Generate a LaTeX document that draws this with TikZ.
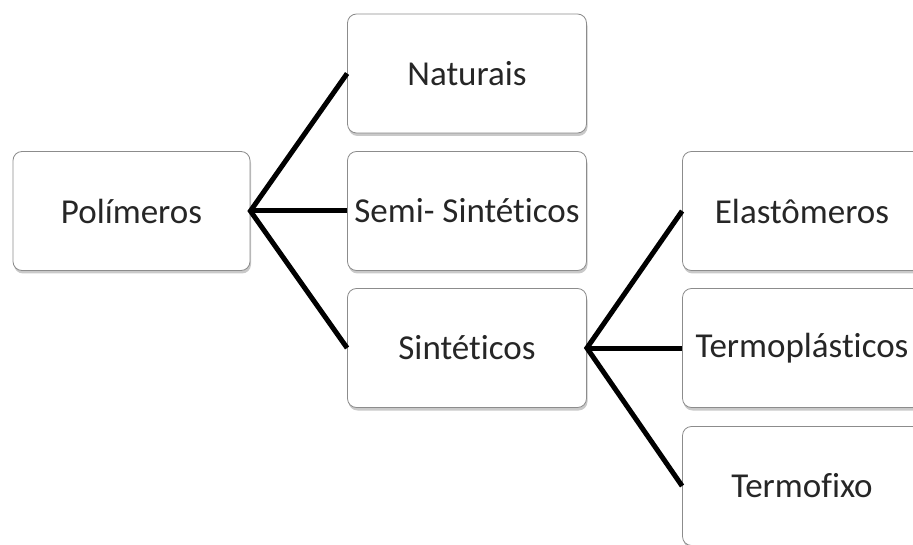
\documentclass[tikz,border=0pt]{standalone}
\usepackage{fontspec}
\setmainfont[Ligatures={NoCommon}]{Carlito}
\usetikzlibrary{shadows}
\begin{document}
\begin{tikzpicture}[x=1pt,y=-1pt,
  box/.style={draw=black!45, line width=0.8pt, fill=white, rounded corners=9pt,
    minimum width=239pt, minimum height=119pt, inner sep=0pt,
    text=black!85, font=\fontsize{35}{42}\selectfont,
    drop shadow={shadow xshift=1pt, shadow yshift=-3pt, opacity=0.35, fill=black!60}},
  link/.style={line width=5pt, black}]
\useasboundingbox (0,0) rectangle (913,545);
\clip (0,0) rectangle (913,545);
\fill[white] (0,0) rectangle (913,545);
\node[box, minimum width=237pt] (pol) at (131.5,211) {Polímeros};
\node[box] (nat) at (467,73.5) {Naturais};
\node[box] (semi) at (467,211) {Semi- Sintéticos};
\node[box] (sin) at (467,348) {Sintéticos};
\node[box] (ela) at (802,211) {Elastômeros};
\node[box] (tpl) at (802,348) {Termoplásticos};
\node[box] (tfx) at (802,486) {Termofixo};
\draw[link] (nat.west) -- (pol.east) -- (sin.west);
\draw[link] (pol.east) -- (semi.west);
\draw[link] (ela.west) -- (sin.east) -- (tfx.west);
\draw[link] (sin.east) -- (tpl.west);
\end{tikzpicture}
\end{document}
